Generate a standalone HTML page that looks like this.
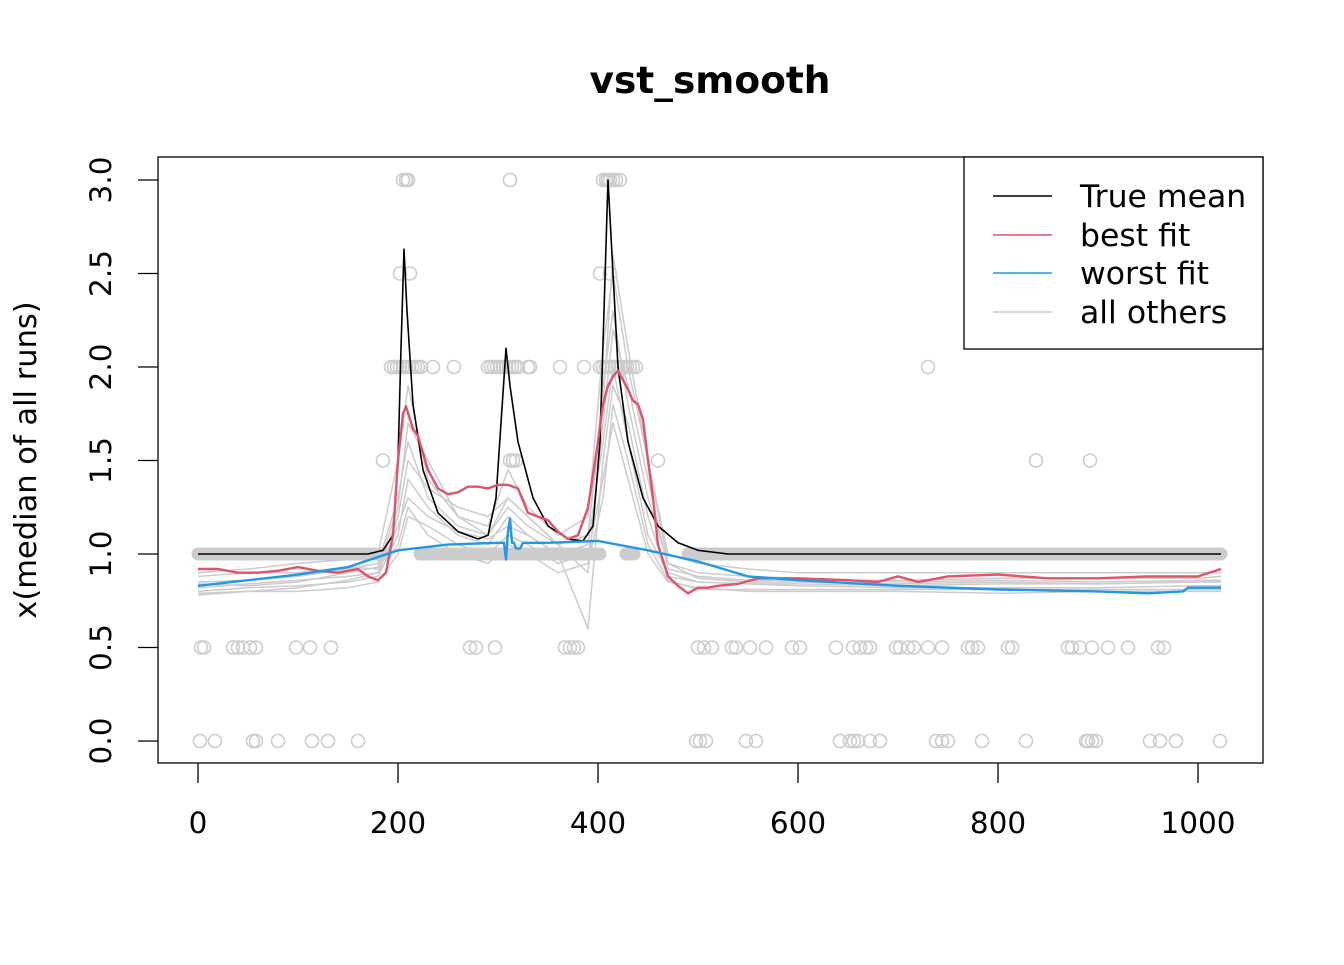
<!DOCTYPE html>
<html><head><meta charset="utf-8"><style>
body{margin:0;background:#fff}
svg text{font-family:"DejaVu Sans","Liberation Sans",sans-serif}
</style></head><body>
<svg id="chart" width="1344" height="960" xmlns="http://www.w3.org/2000/svg">
<rect width="1344" height="960" fill="#fff"/>
<text x="710" y="93" font-size="37.5" font-weight="bold" text-anchor="middle">vst_smooth</text>
<g id="plot"></g>
<g id="axes"></g>
<rect x="158" y="157" width="1105" height="606" fill="none" stroke="#000" stroke-width="1.3"/>
<text transform="translate(36,460) rotate(-90)" font-size="30.5" text-anchor="middle">x(median of all runs)</text>
<g>
<rect x="964" y="157" width="299" height="192" fill="#fff" stroke="#000" stroke-width="1.3"/>
<line x1="993" y1="196" x2="1052" y2="196" stroke="#000" stroke-width="1.5"/>
<text x="1080" y="207" font-size="31.5">True mean</text>
<line x1="993" y1="235" x2="1052" y2="235" stroke="#DF536B" stroke-width="1.5"/>
<text x="1080" y="246" font-size="31.5">best fit</text>
<line x1="993" y1="273" x2="1052" y2="273" stroke="#2297E6" stroke-width="1.5"/>
<text x="1080" y="284" font-size="31.5">worst fit</text>
<line x1="993" y1="312" x2="1052" y2="312" stroke="#CCCCCC" stroke-width="1.5"/>
<text x="1080" y="323" font-size="31.5">all others</text>
</g>
</svg>
<script>
const xTicks=[0,200,400,600,800,1000];
const yTicks=[0.0,0.5,1.0,1.5,2.0,2.5,3.0];
const yTickLabels=["0.0","0.5","1.0","1.5","2.0","2.5","3.0"];
const trueX=[0,170,185,195,200,203,206,209,215,225,240,260,280,290,298,303,308,312,320,335,350,370,385,395,402,406,410,414,420,430,445,460,480,500,530,560,1023];
const trueY=[1.0,1.0,1.02,1.1,1.5,2.1,2.63,2.3,1.8,1.45,1.22,1.12,1.08,1.1,1.3,1.7,2.1,1.9,1.6,1.3,1.15,1.08,1.07,1.15,1.6,2.3,3.0,2.6,2.0,1.6,1.3,1.15,1.06,1.02,1.0,1.0,1.0];
const bestX=[0,20,40,60,80,100,120,140,160,170,180,188,195,200,205,208,212,215,220,230,240,250,260,270,280,290,300,310,320,330,340,350,360,370,380,390,400,405,410,415,420,425,430,435,440,445,450,455,460,470,480,490,500,510,520,540,560,600,650,680,700,720,750,800,850,900,950,1000,1023];
const bestY=[0.92,0.92,0.90,0.90,0.91,0.93,0.91,0.90,0.92,0.88,0.86,0.90,1.1,1.5,1.75,1.79,1.72,1.67,1.63,1.45,1.35,1.32,1.33,1.36,1.36,1.35,1.37,1.37,1.35,1.22,1.20,1.18,1.12,1.08,1.10,1.25,1.6,1.8,1.9,1.95,1.98,1.93,1.88,1.82,1.80,1.72,1.5,1.3,1.05,0.88,0.83,0.79,0.82,0.82,0.83,0.84,0.87,0.87,0.86,0.85,0.88,0.85,0.88,0.89,0.87,0.87,0.88,0.88,0.92];
const worstX=[0,100,150,200,250,300,306,308,310,312,314,316,318,322,325,350,400,450,500,550,600,700,800,900,950,985,990,1000,1023];
const worstY=[0.83,0.89,0.93,1.02,1.05,1.06,1.06,0.97,1.12,1.19,1.06,1.06,1.03,1.03,1.06,1.06,1.07,1.02,0.96,0.88,0.86,0.83,0.81,0.80,0.79,0.80,0.82,0.82,0.82];
const grayX=[0,50,100,150,180,200,210,230,260,290,310,330,360,390,405,415,430,450,470,500,550,600,700,800,900,1000,1023];
const gray1=[0.85,0.86,0.88,0.92,0.95,1.3,1.6,1.3,1.15,1.1,1.25,1.15,1.05,1.1,1.9,2.3,1.8,1.3,0.95,0.9,0.88,0.87,0.85,0.86,0.85,0.86,0.86];
const gray2=[0.80,0.82,0.83,0.85,0.88,1.1,1.4,1.25,1.1,1.05,1.2,1.1,1.0,1.05,1.6,2.0,1.6,1.1,0.9,0.85,0.84,0.83,0.82,0.82,0.82,0.83,0.83];
const gray3=[0.90,0.92,0.95,0.97,1.0,1.5,1.9,1.4,1.2,1.15,1.45,1.25,1.1,1.2,2.1,2.5,2.0,1.5,1.0,0.95,0.92,0.9,0.9,0.9,0.9,0.9,0.9];
const gray4=[0.78,0.8,0.8,0.82,0.85,1.0,1.2,1.15,1.05,1.0,1.1,1.05,0.95,1.0,1.4,1.7,1.4,1.0,0.85,0.82,0.8,0.8,0.8,0.79,0.8,0.8,0.8];
const gray5=[0.88,0.9,0.9,0.93,0.92,1.2,1.5,1.35,1.25,1.2,1.3,1.2,1.05,0.9,1.7,2.2,1.9,1.4,0.92,0.88,0.86,0.86,0.86,0.87,0.87,0.87,0.88];
const gray6=[0.82,0.84,0.86,0.88,0.9,1.15,1.3,1.2,1.12,1.08,1.15,1.1,1.0,0.6,1.5,1.9,1.7,1.2,0.88,0.85,0.84,0.84,0.83,0.84,0.84,0.85,0.85];
const gray7=[0.84,0.83,0.85,0.9,0.93,1.25,1.7,1.5,1.2,1.1,1.3,1.2,1.05,1.1,1.8,2.6,2.1,1.5,0.95,0.87,0.85,0.85,0.84,0.85,0.84,0.85,0.85];
const gray8=[0.79,0.8,0.82,0.86,0.9,1.05,1.25,1.1,1.0,0.95,1.05,1.0,0.9,0.95,1.3,1.8,1.5,1.05,0.86,0.81,0.81,0.81,0.81,0.81,0.81,0.81,0.81];
const bandStart=[0,222,428,490];
const bandEnd=[188,402,436,1023];
const bandY=[1,1,1,1];
const ptX=[205,208,210,312,405,408,410,412,415,418,422, 202,212,402,412,
193,196,199,202,205,208,211,214,217,220,223,235,256,290,293,296,299,302,305,308,311,314,317,320,330,332,362,386,402,405,408,411,414,417,420,423,426,429,432,435,438,730,
185,312,315,318,460,838,892,
3,6,35,40,45,52,58,98,112,133,272,278,297,367,372,376,380,500,506,514,534,538,552,568,594,602,638,655,662,668,672,698,702,710,716,730,744,770,774,780,810,814,870,874,882,894,910,930,960,966,
2,17,55,58,80,114,130,160,498,502,508,548,558,642,652,656,660,672,682,738,744,750,784,828,888,890,894,898,952,962,978,1022];
const ptY=[3,3,3,3,3,3,3,3,3,3,3, 2.5,2.5,2.5,2.5,
2,2,2,2,2,2,2,2,2,2,2,2,2,2,2,2,2,2,2,2,2,2,2,2,2,2,2,2,2,2,2,2,2,2,2,2,2,2,2,2,2,2,
1.5,1.5,1.5,1.5,1.5,1.5,1.5,
0.5,0.5,0.5,0.5,0.5,0.5,0.5,0.5,0.5,0.5,0.5,0.5,0.5,0.5,0.5,0.5,0.5,0.5,0.5,0.5,0.5,0.5,0.5,0.5,0.5,0.5,0.5,0.5,0.5,0.5,0.5,0.5,0.5,0.5,0.5,0.5,0.5,0.5,0.5,0.5,0.5,0.5,0.5,0.5,0.5,0.5,0.5,0.5,0.5,0.5,
0,0,0,0,0,0,0,0,0,0,0,0,0,0,0,0,0,0,0,0,0,0,0,0,0,0,0,0,0,0,0,0];

const NS="http://www.w3.org/2000/svg";
const sx=v=>198+v*1.0;
const sy=v=>741-v*187;
const plot=document.getElementById('plot');
const axes=document.getElementById('axes');
function mk(tag,attrs,parent){const e=document.createElementNS(NS,tag);for(const k in attrs)e.setAttribute(k,attrs[k]);parent.appendChild(e);return e;}
function line(xs,ys,color,w,name){
  const d=xs.map((x,i)=>(i?'L':'M')+sx(x).toFixed(1)+','+sy(ys[i]).toFixed(1)).join('');
  const p=mk('path',{d:d,fill:'none',stroke:color,'stroke-width':w,'stroke-linejoin':'round'},plot);
  
  
}
bandStart.forEach((s,i)=>{
  const b=mk('line',{x1:sx(s),y1:sy(bandY[i]),x2:sx(bandEnd[i]),y2:sy(bandY[i]),stroke:'#CCCCCC','stroke-width':13,'stroke-linecap':'round'},plot);
  
  
});
ptX.forEach((x,i)=>{
  const c=mk('circle',{cx:sx(x),cy:sy(ptY[i]),r:6.5,fill:'none',stroke:'#CCCCCC','stroke-width':1.6},plot);
  
  
});
[gray1,gray2,gray3,gray4,gray5,gray6,gray7,gray8].forEach(g=>line(grayX,g,'#CCCCCC',1.5,'other-fit-line'));
line(trueX,trueY,'#000',1.6,'true-mean-line');
line(bestX,bestY,'#DF536B',2.4,'best-fit-line');
line(worstX,worstY,'#2297E6',2.4,'worst-fit-line');
xTicks.forEach(t=>{
  const l=mk('line',{x1:sx(t),y1:763,x2:sx(t),y2:783,stroke:'#000','stroke-width':1.3},axes);
  
  
  const tx=mk('text',{x:sx(t),y:833,'font-size':29.5,'text-anchor':'middle'},axes);
  tx.textContent=String(t);
  
  
});
yTicks.forEach((t,i)=>{
  const l=mk('line',{x1:138,y1:sy(t),x2:158,y2:sy(t),stroke:'#000','stroke-width':1.3},axes);
  
  
  const tx=mk('text',{transform:'translate(111,'+sy(t)+') rotate(-90)','font-size':29.5,'text-anchor':'middle'},axes);
  tx.textContent=yTickLabels[i];
  
  
});
</script>
</body></html>
